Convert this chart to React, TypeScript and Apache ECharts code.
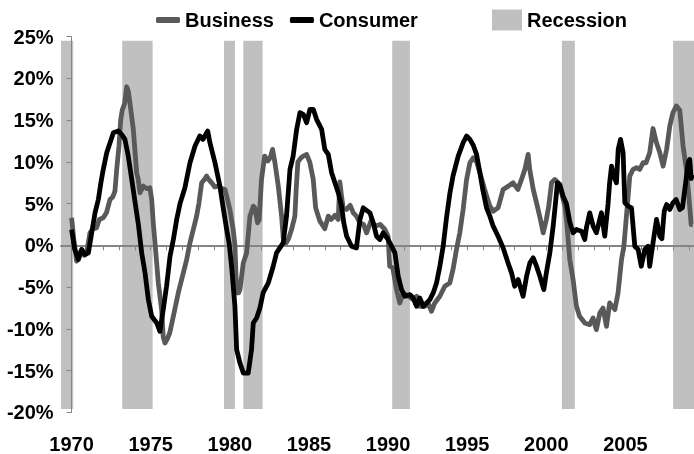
import React, { useEffect, useRef } from "react";
import * as echarts from "echarts";

// [year, %] readings
const business: [number, number][] = [
  [1970.0, 3.3], [1970.15, 0.5], [1970.32, -1.9], [1970.5, -1.0], [1970.64, -0.5], [1970.8, -1.2], [1970.95, -0.9],
  [1971.16, 1.5], [1971.35, 2.0], [1971.58, 2.1], [1971.75, 3.1], [1972.0, 3.3], [1972.2, 3.9], [1972.43, 5.5],
  [1972.6, 5.8], [1972.74, 6.5], [1972.85, 9.1], [1973.0, 12.0], [1973.1, 15.0], [1973.2, 16.2], [1973.35, 17.0],
  [1973.48, 19.0], [1973.58, 18.5], [1973.69, 17.0], [1973.9, 13.9], [1974.11, 8.7], [1974.2, 8.0], [1974.32, 6.3],
  [1974.53, 7.1], [1974.75, 6.8], [1974.95, 6.9], [1975.06, 5.5], [1975.16, 2.7], [1975.27, 0.3], [1975.48, -4.5],
  [1975.69, -7.7], [1975.79, -11.0], [1975.9, -11.7], [1976.05, -11.2], [1976.2, -10.5], [1976.43, -8.5],
  [1976.74, -5.7], [1977.06, -3.3], [1977.27, -1.7], [1977.48, 0.3], [1977.69, 1.9], [1977.9, 3.5], [1978.05, 5.1],
  [1978.22, 7.5], [1978.4, 7.9], [1978.53, 8.3], [1978.7, 7.8], [1978.85, 7.5], [1979.05, 7.0], [1979.27, 7.1],
  [1979.5, 6.8], [1979.69, 6.7], [1979.8, 5.9], [1980.0, 4.3], [1980.21, 1.9], [1980.32, 0], [1980.43, -5.7],
  [1980.55, -5.7], [1980.64, -5.3], [1980.85, -2.1], [1981.06, -0.9], [1981.27, 3.5], [1981.48, 4.7], [1981.58, 4.5],
  [1981.75, 2.7], [1981.85, 3.0], [1982.0, 7.9], [1982.2, 10.7], [1982.4, 10.1], [1982.55, 10.5], [1982.7, 11.5],
  [1982.85, 9.9], [1983.06, 7.1], [1983.27, 3.5], [1983.37, 1.0], [1983.55, 0.3], [1983.69, 0.7], [1983.9, 1.9],
  [1984.11, 3.5], [1984.2, 7.0], [1984.3, 10.0], [1984.5, 10.5], [1984.64, 10.7], [1984.85, 10.9], [1985.06, 9.9],
  [1985.27, 7.9], [1985.42, 4.5], [1985.69, 2.9], [1986.0, 2.0], [1986.22, 3.5], [1986.4, 3.1], [1986.64, 3.6],
  [1986.85, 3.1], [1986.95, 7.6], [1987.05, 6.0], [1987.16, 4.5], [1987.37, 4.3], [1987.6, 4.8], [1987.8, 3.9],
  [1988.0, 3.5], [1988.22, 2.7], [1988.45, 2.5], [1988.64, 1.5], [1988.95, 3.1], [1989.16, 2.3], [1989.5, 2.5],
  [1989.8, 1.9], [1990.0, 1.1], [1990.1, -2.5], [1990.3, -2.7], [1990.53, -5.3], [1990.74, -6.9], [1990.95, -5.7],
  [1991.27, -6.1], [1991.58, -6.5], [1991.8, -6.1], [1992.0, -7.3], [1992.32, -7.3], [1992.53, -6.9], [1992.74, -7.9],
  [1992.95, -6.9], [1993.27, -6.1], [1993.58, -4.9], [1993.9, -4.5], [1994.1, -2.9], [1994.32, -0.5], [1994.53, 1.5],
  [1994.74, 4.3], [1994.96, 7.9], [1995.17, 9.9], [1995.38, 10.5], [1995.6, 10.0], [1995.8, 8.7], [1996.1, 6.7],
  [1996.43, 4.7], [1996.64, 4.1], [1996.95, 4.5], [1997.27, 6.7], [1997.6, 7.1], [1997.9, 7.5], [1998.2, 6.7],
  [1998.43, 7.9], [1998.64, 9.1], [1998.85, 10.9], [1998.95, 9.1], [1999.17, 6.7], [1999.38, 5.1], [1999.6, 3.3],
  [1999.8, 1.5], [2000.0, 3.1], [2000.15, 4.7], [2000.33, 7.5], [2000.53, 7.9], [2000.74, 7.5], [2000.96, 6.3],
  [2001.17, 4.7], [2001.3, 2.5], [2001.48, -1.7], [2001.69, -4.1], [2001.9, -7.3], [2002.1, -8.5], [2002.43, -9.3],
  [2002.74, -9.5], [2002.95, -8.7], [2003.16, -10.1], [2003.38, -8.1], [2003.58, -7.5], [2003.8, -9.7], [2004.0, -6.9],
  [2004.33, -7.7], [2004.53, -5.7], [2004.75, -1.7], [2004.9, -0.1], [2005.06, 3.5], [2005.17, 5.9], [2005.27, 8.3],
  [2005.48, 9.1], [2005.7, 9.3], [2005.9, 9.1], [2006.11, 9.9], [2006.3, 9.9], [2006.53, 11.1], [2006.74, 14.0],
  [2006.96, 12.3], [2007.17, 11.1], [2007.38, 9.5], [2007.6, 11.5], [2007.8, 14.3], [2008.0, 15.9], [2008.22, 16.7],
  [2008.43, 16.2], [2008.64, 11.9], [2008.85, 9.1], [2009.0, 6.0], [2009.15, 2.5], [2009.25, 2.5],
];

const consumer: [number, number][] = [
  [1970.0, 1.9], [1970.2, -0.5], [1970.43, -1.7], [1970.64, -0.5], [1970.85, -1.1], [1971.06, -0.9], [1971.27, 1.5],
  [1971.48, 3.9], [1971.69, 5.5], [1971.85, 7.5], [1972.0, 9.1], [1972.22, 11.1], [1972.43, 12.3], [1972.64, 13.5],
  [1972.95, 13.7], [1973.16, 13.3], [1973.37, 12.7], [1973.58, 10.7], [1973.8, 7.9], [1974.0, 5.3], [1974.22, 2.5],
  [1974.43, -0.9], [1974.64, -3.3], [1974.85, -6.5], [1975.06, -8.5], [1975.38, -9.3], [1975.58, -10.3],
  [1975.79, -7.7], [1976.0, -4.9], [1976.22, -1.3], [1976.43, 0.7], [1976.64, 3.1], [1976.85, 5.0], [1977.16, 6.9],
  [1977.48, 9.9], [1977.8, 11.9], [1978.1, 13.1], [1978.3, 12.7], [1978.6, 13.7], [1978.74, 12.3], [1979.06, 9.9],
  [1979.37, 7.1], [1979.58, 4.5], [1979.8, 1.9], [1979.95, 0.3], [1980.11, -2.5], [1980.32, -7.3], [1980.43, -12.5],
  [1980.64, -14.1], [1980.85, -15.3], [1981.16, -15.3], [1981.37, -12.5], [1981.48, -9.3], [1981.69, -8.7],
  [1981.9, -7.5], [1982.1, -5.7], [1982.43, -4.5], [1982.74, -2.5], [1982.95, -0.9], [1983.16, -0.3], [1983.37, 0.3],
  [1983.58, 3.5], [1983.8, 9.1], [1984.0, 10.7], [1984.22, 13.9], [1984.43, 15.9], [1984.64, 15.7], [1984.85, 14.7],
  [1985.06, 16.3], [1985.27, 16.3], [1985.48, 15.1], [1985.8, 13.9], [1986.0, 11.5], [1986.22, 10.9], [1986.43, 8.7],
  [1986.64, 7.5], [1986.85, 6.3], [1987.06, 4.7], [1987.2, 2.7], [1987.38, 1.1], [1987.69, -0.1], [1988.0, -0.3],
  [1988.22, 3.1], [1988.43, 4.5], [1988.85, 3.9], [1989.06, 2.7], [1989.27, 1.1], [1989.48, 0.7], [1989.69, 1.5],
  [1990.0, 0.7], [1990.22, -0.1], [1990.43, -0.9], [1990.64, -3.7], [1990.85, -5.3], [1991.06, -6.1], [1991.38, -5.9],
  [1991.58, -6.3], [1991.8, -7.3], [1992.0, -6.3], [1992.22, -7.3], [1992.43, -6.9], [1992.64, -6.5], [1992.85, -5.7],
  [1993.06, -4.5], [1993.27, -2.5], [1993.48, -0.1], [1993.69, 3.3], [1993.9, 6.2], [1994.1, 8.3], [1994.43, 10.7],
  [1994.74, 12.3], [1994.96, 13.1], [1995.17, 12.7], [1995.38, 12.0], [1995.59, 10.9], [1995.8, 8.7], [1996.0, 6.5],
  [1996.22, 4.5], [1996.43, 3.5], [1996.64, 2.3], [1996.95, 1.1], [1997.27, -0.3], [1997.58, -2.1], [1997.8, -3.3],
  [1998.0, -4.9], [1998.22, -4.1], [1998.53, -6.1], [1998.75, -3.7], [1998.96, -2.1], [1999.17, -1.5], [1999.38, -2.5],
  [1999.59, -3.7], [1999.84, -5.3], [2000.0, -3.3], [2000.22, -0.9], [2000.43, 2.3], [2000.6, 5.5], [2000.7, 7.5],
  [2000.85, 7.3], [2001.06, 5.9], [2001.27, 5.0], [2001.48, 2.8], [2001.69, 1.5], [2001.9, 1.9], [2002.22, 1.7],
  [2002.43, 0.7], [2002.53, 2.1], [2002.74, 3.9], [2002.96, 2.3], [2003.16, 1.5], [2003.48, 3.9], [2003.69, 1.1],
  [2003.9, 5.0], [2004.0, 7.5], [2004.12, 9.5], [2004.26, 8.3], [2004.43, 7.5], [2004.54, 11.5], [2004.69, 12.7],
  [2004.85, 11.1], [2004.96, 5.1], [2005.17, 4.7], [2005.38, 4.5], [2005.48, 2.3], [2005.59, -0.1], [2005.8, -0.5],
  [2006.0, -2.5], [2006.22, -0.5], [2006.43, -0.1], [2006.53, -2.5], [2006.74, 0.3], [2006.96, 3.1], [2007.17, 1.1],
  [2007.3, 0.8], [2007.45, 4.1], [2007.6, 4.9], [2007.8, 4.3], [2008.0, 5.1], [2008.2, 5.5], [2008.43, 4.3],
  [2008.6, 4.5], [2008.75, 6.7], [2008.96, 9.9], [2009.06, 10.3], [2009.15, 8.0], [2009.25, 8.5],
];

// recession shading [start, end]
const recessions: [number, number][] = [
  [1969.33, 1970.1], [1973.2, 1975.12], [1979.63, 1980.32], [1980.85, 1982.07],
  [1990.26, 1991.38], [2000.98, 2001.8], [2008.01, 2009.4],
];
const bandLow = -19.6;
const bandHigh = 24.5;

const yearLabels = [1970, 1975, 1980, 1985, 1990, 1995, 2000, 2005];
const yearTicks: number[] = [];
for (let y = 1970; y <= 2009; y++) yearTicks.push(y);

const xMin = 1969.33;
const xMax = 2009.33;

const FONT = "'Liberation Sans', Arial, sans-serif";
const AXIS_GRAY = "#858585";

export default function App() {
  const ref = useRef<HTMLDivElement>(null);
  useEffect(() => {
    if (!ref.current) return;
    const chart = echarts.init(ref.current, undefined, { renderer: "svg" });
    const textStyle = { fontFamily: FONT, fontSize: 20, fontWeight: "bold" as const, color: "#000" };
    chart.setOption({
      animation: false,
      grid: { left: 61, right: 0, top: 36.7, bottom: 41.7, containLabel: false, outerBoundsMode: "none" },
      legend: [
        {
          data: ["Business", "Consumer"],
          left: 156,
          top: 10,
          padding: 0,
          itemGap: 16,
          itemWidth: 24,
          itemHeight: 6,
          icon: "roundRect",
          selectedMode: false,
          textStyle,
        },
        {
          data: ["Recession"],
          left: 492,
          top: 9.5,
          padding: 0,
          itemWidth: 30,
          itemHeight: 21,
          icon: "rect",
          selectedMode: false,
          textStyle,
        },
      ],
      xAxis: [
        {
          type: "value",
          min: xMin,
          max: xMax,
          z: 1,
          axisLine: { show: true, onZero: true, lineStyle: { color: AXIS_GRAY, width: 2 } },
          axisTick: { show: true, length: 5, customValues: yearTicks, lineStyle: { color: AXIS_GRAY, width: 1 } },
          axisLabel: { show: false },
          splitLine: { show: false },
        },
        {
          type: "value",
          min: xMin,
          max: xMax,
          position: "bottom",
          axisLine: { show: false, onZero: false },
          axisTick: { show: false },
          splitLine: { show: false },
          axisLabel: {
            show: true,
            customValues: yearLabels,
            margin: 22,
            ...textStyle,
            formatter: (v: number) => String(Math.round(v)),
          },
        },
      ],
      yAxis: {
        type: "value",
        min: -20,
        max: 25,
        interval: 5,
        offset: -10.6,
        z: 1,
        axisLine: { show: true, onZero: false, lineStyle: { color: AXIS_GRAY, width: 1 } },
        axisTick: { show: true, length: 5, lineStyle: { color: AXIS_GRAY, width: 1 } },
        splitLine: { show: false },
        axisLabel: { margin: 18, formatter: "{value}%", ...textStyle },
      },
      series: [
        {
          name: "Recession",
          type: "custom",
          z: 0,
          clip: true,
          itemStyle: { color: "#c0c0c0" },
          encode: { x: [0, 1], y: [2, 3] },
          data: recessions.map(([s, e]) => [s, e, bandLow, bandHigh]),
          renderItem: (_p: any, api: any) => {
            const a = api.coord([api.value(0), api.value(3)]);
            const b = api.coord([api.value(1), api.value(2)]);
            return {
              type: "rect",
              shape: { x: a[0], y: a[1], width: b[0] - a[0], height: b[1] - a[1] },
              style: { fill: "#c0c0c0" },
            };
          },
        },
        {
          name: "Business",
          type: "line",
          z: 3,
          data: business,
          showSymbol: false,
          symbol: "none",
          color: "#595959",
          lineStyle: { color: "#595959", width: 4.8, join: "round" },
          itemStyle: { color: "#595959" },
        },
        {
          name: "Consumer",
          type: "line",
          z: 4,
          data: consumer,
          showSymbol: false,
          symbol: "none",
          color: "#000000",
          lineStyle: { color: "#000000", width: 4.8, join: "round" },
          itemStyle: { color: "#000000" },
        },
      ],
    });
    return () => chart.dispose();
  }, []);
  return <div ref={ref} style={{ position: "fixed", left: 0, top: 0, width: 694, height: 454 }} />;
}
